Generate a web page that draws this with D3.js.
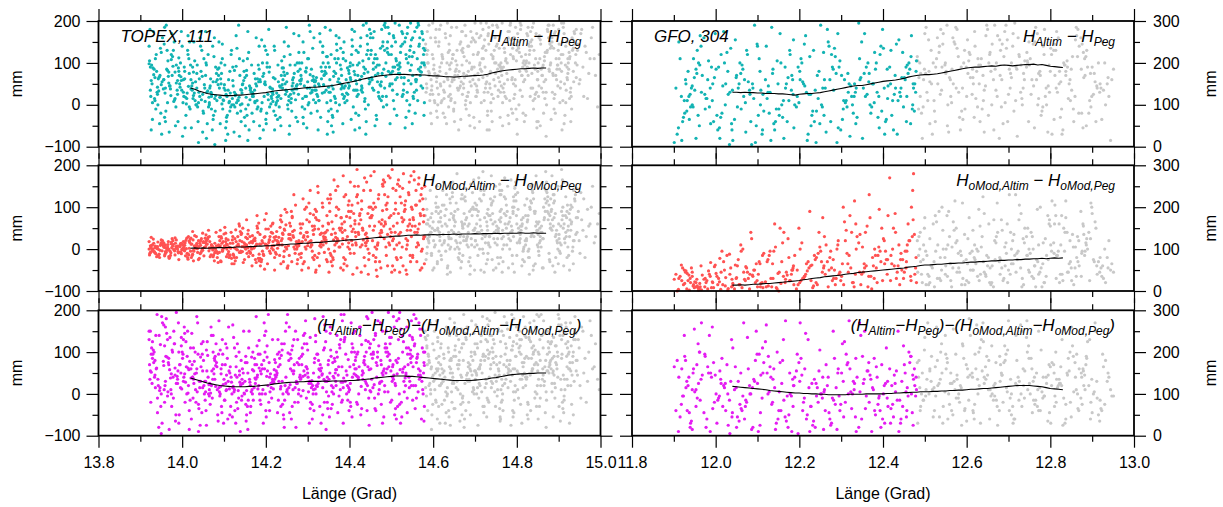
<!DOCTYPE html>
<html><head><meta charset="utf-8">
<script src="https://cdn.jsdelivr.net/npm/d3@7"></script>
<style>
body{margin:0;background:#fff}
svg{display:block}
</style>
</head><body>
<svg id="chart" width="1223" height="507"></svg>
<script>
// ---------------- DATA ----------------
// Left column (TOPEX, pass 111): longitude of the points used (coloured)
const leftX = [
13.938,13.924,13.949,13.930,13.943,13.921,13.935,13.952,13.927,13.946,13.932,13.940,13.923,13.950,13.929,13.936,13.945,13.926,13.941,13.933,
13.960,13.981,13.968,13.985,13.956,13.973,13.964,13.978,13.971,13.958,13.983,13.966,13.976,13.962,13.986,13.969,13.955,13.974,13.980,13.965,
14.012,13.996,14.003,13.990,14.017,14.000,14.008,13.994,14.019,14.005,13.988,14.014,13.998,14.010,13.992,14.001,14.015,14.006,13.989,13.997,
14.032,14.051,14.025,14.040,14.046,14.028,14.035,14.022,14.048,14.042,14.030,14.037,14.053,14.024,14.044,14.033,14.027,14.049,14.039,14.021,
14.083,14.056,14.074,14.067,14.062,14.080,14.070,14.085,14.059,14.065,14.077,14.054,14.072,14.081,14.064,14.058,14.075,14.068,14.061,14.078,
14.101,14.114,14.088,14.107,14.095,14.118,14.103,14.091,14.111,14.098,14.116,14.093,14.105,14.087,14.109,14.100,14.113,14.096,14.090,14.106,
14.150,14.130,14.141,14.125,14.137,14.120,14.145,14.132,14.148,14.127,14.135,14.152,14.122,14.139,14.129,14.143,14.124,14.147,14.133,14.140,
14.155,14.172,14.164,14.179,14.159,14.185,14.168,14.175,14.153,14.166,14.181,14.161,14.177,14.170,14.157,14.183,14.163,14.174,14.154,14.169,
14.210,14.192,14.217,14.200,14.186,14.205,14.197,14.214,14.189,14.208,14.199,14.216,14.194,14.203,14.212,14.187,14.207,14.196,14.218,14.202,
14.227,14.245,14.233,14.219,14.238,14.250,14.224,14.242,14.230,14.236,14.247,14.221,14.240,14.228,14.251,14.234,14.222,14.244,14.231,14.239,
14.270,14.255,14.281,14.263,14.276,14.258,14.267,14.284,14.253,14.273,14.261,14.279,14.265,14.256,14.282,14.269,14.260,14.275,14.264,14.278,
14.299,14.312,14.287,14.306,14.294,14.316,14.302,14.290,14.310,14.297,14.285,14.314,14.304,14.292,14.308,14.296,14.317,14.289,14.301,14.311,
14.339,14.322,14.347,14.331,14.318,14.343,14.327,14.336,14.350,14.325,14.341,14.320,14.333,14.346,14.329,14.338,14.323,14.349,14.335,14.344,
14.364,14.378,14.353,14.370,14.359,14.382,14.367,14.355,14.375,14.361,14.380,14.357,14.372,14.365,14.351,14.376,14.362,14.369,14.383,14.356,
14.395,14.410,14.387,14.403,14.415,14.391,14.400,14.413,14.386,14.406,14.397,14.384,14.408,14.393,14.416,14.402,14.389,14.411,14.398,14.405,
14.431,14.446,14.420,14.438,14.426,14.449,14.434,14.418,14.442,14.429,14.440,14.423,14.447,14.436,14.421,14.444,14.428,14.433,14.417,14.439,
14.471,14.455,14.480,14.462,14.476,14.451,14.467,14.459,14.482,14.464,14.453,14.474,14.469,14.457,14.478,14.461,14.450,14.473,14.466,14.479,
14.494,14.510,14.486,14.503,14.515,14.491,14.499,14.507,14.484,14.497,14.512,14.489,14.505,14.493,14.514,14.501,14.487,14.509,14.496,14.504,
14.530,14.546,14.521,14.538,14.526,14.543,14.517,14.535,14.548,14.524,14.540,14.529,14.519,14.545,14.533,14.522,14.541,14.527,14.537,14.548,
14.562,14.575,14.551,14.569,14.557,14.580,14.565,14.553,14.573,14.560,14.578,14.555,14.567,14.572,14.550,14.577,14.559,14.564,14.579,14.570,
13.947,13.929,13.922,13.941,13.953,13.934,13.926,13.950,13.937,13.924,13.944,13.931,13.928,13.951,13.939,13.925,13.948,13.935,13.942,13.921,
13.977,13.959,13.984,13.963,13.970,13.957,13.982,13.967,13.975,13.961,13.986,13.972,13.956,13.979,13.965,13.983,13.960,13.974,13.968,13.958,
14.004,13.991,14.018,13.999,14.009,13.993,14.016,14.002,13.989,14.013,14.007,13.995,14.020,14.011,13.998,14.006,14.017,13.992,14.003,14.014,
14.045,14.026,14.038,14.052,14.023,14.034,14.047,14.029,14.041,14.050,14.036,14.021,14.043,14.031,14.025,14.049,14.035,14.027,14.044,14.039,
14.066,14.079,14.057,14.071,14.084,14.060,14.073,14.055,14.082,14.069,14.063,14.076,14.086,14.058,14.070,14.080,14.065,14.074,14.056,14.078,
14.112,14.094,14.108,14.089,14.117,14.099,14.104,14.092,14.115,14.102,14.097,14.110,14.088,14.119,14.093,14.106,14.114,14.091,14.104,14.096,
14.126,14.144,14.121,14.136,14.149,14.131,14.142,14.123,14.138,14.151,14.128,14.146,14.134,14.121,14.140,14.129,14.152,14.137,14.125,14.143,
14.176,14.158,14.182,14.165,14.171,14.154,14.184,14.162,14.178,14.167,14.156,14.173,14.180,14.160,14.168,14.184,14.157,14.174,14.163,14.179,
14.195,14.213,14.188,14.204,14.216,14.191,14.209,14.198,14.201,14.215,14.190,14.206,14.193,14.211,14.186,14.203,14.217,14.197,14.209,14.200,
14.241,14.223,14.248,14.229,14.236,14.220,14.246,14.232,14.243,14.226,14.249,14.235,14.221,14.239,14.230,14.244,14.225,14.250,14.237,14.228,
14.259,14.277,14.262,14.283,14.254,14.271,14.266,14.280,14.257,14.274,14.268,14.252,14.279,14.263,14.272,14.258,14.284,14.267,14.255,14.275,
14.309,14.288,14.300,14.315,14.293,14.305,14.286,14.313,14.298,14.307,14.291,14.317,14.303,14.295,14.311,14.289,14.300,14.314,14.297,14.306,
14.326,14.345,14.319,14.334,14.348,14.330,14.340,14.321,14.337,14.350,14.328,14.342,14.324,14.332,14.347,14.319,14.336,14.344,14.327,14.340,
14.373,14.354,14.381,14.360,14.368,14.377,14.352,14.366,14.379,14.358,14.371,14.363,14.383,14.356,14.374,14.361,14.369,14.380,14.354,14.367,
14.388,14.407,14.399,14.414,14.385,14.404,14.392,14.412,14.396,14.401,14.390,14.409,14.385,14.415,14.394,14.406,14.398,14.413,14.387,14.402,
14.443,14.425,14.437,14.419,14.448,14.430,14.441,14.422,14.435,14.447,14.427,14.445,14.432,14.418,14.438,14.424,14.444,14.429,14.440,14.421,
14.458,14.477,14.463,14.452,14.481,14.468,14.456,14.475,14.460,14.470,14.483,14.454,14.465,14.479,14.457,14.472,14.462,14.476,14.451,14.467,
14.506,14.488,14.511,14.498,14.485,14.502,14.513,14.490,14.508,14.495,14.484,14.500,14.514,14.492,14.505,14.487,14.510,14.497,14.503,14.491,
14.539,14.520,14.544,14.528,14.534,14.518,14.547,14.525,14.536,14.542,14.523,14.531,14.546,14.517,14.538,14.532,14.520,14.544,14.527,14.535,
14.558,14.574,14.552,14.566,14.579,14.561,14.571,14.550,14.576,14.563,14.554,14.569,14.578,14.556,14.573,14.560,14.568,14.551,14.577,14.565
];
// H_Altim - H_Peg (mm)
const leftAltY = [
120,35,-20,88,62,140,10,55,95,-45,72,30,180,48,5,110,66,-60,25,85,
40,150,78,-5,60,22,130,92,45,-30,15,105,70,190,52,-65,38,120,8,82,
28,100,60,-40,75,140,18,50,-10,90,35,165,58,2,112,-75,44,80,25,67,
55,-20,90,30,12,150,40,-55,68,20,105,-5,48,35,175,0,78,25,-90,60,
10,70,-35,45,120,22,-10,85,30,5,160,40,-60,55,18,95,-25,62,33,-95,
48,-15,88,20,2,130,35,-45,60,12,-5,100,25,70,-70,40,8,145,18,-30,
65,5,-40,30,110,15,50,-20,80,22,190,-10,45,0,92,28,-65,58,12,36,
-25,75,40,10,125,-50,30,62,18,95,-5,45,160,20,-85,55,35,5,82,25,
42,100,8,-35,60,25,140,15,-10,78,48,30,-60,90,2,55,180,20,65,-20,
18,70,45,-15,105,32,0,88,55,-50,25,130,40,10,75,-30,62,150,22,48,
95,10,58,35,-40,120,28,70,-10,45,15,165,52,-70,85,38,5,100,60,25,
40,135,-5,72,20,55,110,-45,30,88,62,12,190,45,-20,78,35,150,0,58,
70,25,115,-30,55,90,10,140,42,-60,80,35,62,5,170,48,-15,100,28,75,
20,95,60,130,-25,48,75,10,160,38,85,-50,55,110,30,0,68,145,42,-10,
88,35,150,60,-20,105,45,72,15,180,52,-45,95,28,130,65,5,80,40,120,
30,110,70,-10,140,55,90,20,165,45,-40,100,62,8,125,78,35,190,50,-70,
95,40,150,70,10,120,55,175,85,-25,65,135,30,100,75,-50,160,48,110,20,
120,60,185,35,95,150,75,-10,130,50,105,0,165,80,25,140,68,195,45,90,
50,140,90,170,20,115,75,-30,155,65,100,35,190,82,-55,125,58,145,10,95,
110,40,160,70,-20,130,85,15,175,60,100,30,145,78,-45,120,55,195,5,90,
70,-35,105,42,160,15,58,125,-10,90,33,175,50,-70,80,20,135,65,0,98,
115,28,-50,85,45,145,12,68,170,-15,95,38,60,130,5,78,-40,108,52,185,
20,88,150,35,-25,70,110,5,58,130,-55,42,95,15,175,62,-5,80,30,120,
80,15,-40,110,45,0,130,28,62,-15,95,38,160,10,52,-65,75,22,140,5,
40,-15,100,25,60,-45,140,8,75,30,-5,115,48,-80,20,90,0,55,175,15,
5,75,-25,40,120,10,-55,62,28,95,-10,35,150,0,50,-40,80,18,-85,110,
-5,48,90,18,-30,135,35,0,70,-50,25,105,10,58,-15,165,40,-75,82,2,
50,0,95,30,-40,70,140,12,45,-20,110,35,62,-60,20,85,175,8,40,-10,
75,20,-15,120,38,5,90,55,-45,30,155,12,68,40,-80,100,25,50,-5,130,
60,-25,35,95,15,140,50,-5,78,28,185,42,-60,88,20,115,5,55,70,-35,
25,80,-15,50,140,12,65,100,-50,38,75,0,125,45,-30,95,58,170,20,48,
85,15,55,160,-10,40,100,68,-55,28,125,45,5,80,35,-30,110,60,20,175,
50,115,5,80,-40,150,30,65,100,-15,45,185,20,90,-70,58,125,35,10,72,
110,30,70,-30,165,52,90,15,135,45,-15,80,25,120,62,-65,100,38,178,5,
20,140,75,35,110,-35,60,175,25,92,45,-5,125,58,10,155,82,-60,40,100,
145,60,15,95,180,40,120,-25,75,50,160,0,105,35,85,-55,130,68,195,25,
35,180,90,130,-5,75,160,45,110,20,190,60,-35,140,85,15,120,55,170,95,
160,20,110,75,195,50,-25,135,90,170,40,120,65,185,10,100,150,-45,80,125,
185,75,130,25,160,95,50,175,110,-15,140,65,195,85,30,150,100,0,170,120,
60,170,20,140,95,185,45,115,155,10,125,80,-25,175,100,35,160,70,135,190
];
// H_oMod,Altim - H_oMod,Peg (mm)
const leftModY = [
5,-8,12,0,-15,18,3,-4,9,-20,14,2,-10,22,-3,7,-12,28,1,-6,
10,-2,-18,6,15,-9,0,20,-5,4,-14,11,25,-7,2,-22,8,16,-1,5,
-10,13,3,-6,19,0,-16,8,24,-3,6,-12,14,1,-25,10,30,-4,7,-8,
2,18,-12,6,25,-5,10,-20,0,14,32,-8,4,-15,20,8,-3,38,-25,12,
-6,15,5,-18,28,0,10,-10,22,3,-28,16,7,40,-4,12,-14,2,24,-9,
8,-15,30,0,14,-22,5,45,-6,18,2,-30,25,10,-12,36,4,-5,20,-18,
12,-20,35,3,-8,22,50,-2,15,-28,8,28,-12,42,0,18,-35,6,30,-5,
-10,24,5,55,-18,12,32,-25,8,0,40,15,-32,20,3,62,-8,26,10,-15,
30,-5,18,48,-22,8,70,2,-30,22,12,38,-12,5,55,-40,16,28,-2,10,
20,45,-15,8,65,0,30,-30,15,80,5,-20,38,12,-45,52,22,-5,28,10,
-10,35,15,75,-25,25,5,50,-40,18,90,8,32,-15,60,0,22,-35,42,12,
40,-20,18,85,5,55,-45,28,10,100,-10,35,65,-30,20,0,48,120,15,-5,
25,70,-30,12,95,40,-10,55,0,135,20,-50,38,80,8,30,-20,62,110,15,
-5,45,90,18,-40,60,28,120,5,-25,75,35,150,10,-55,50,22,100,40,-15,
30,85,-35,55,15,130,0,68,-20,42,105,25,-60,78,10,160,45,-10,90,20,
50,-25,110,35,5,75,140,-45,28,95,15,60,-10,170,40,85,-55,22,125,8,
65,20,150,-30,45,100,10,185,55,-50,80,30,120,-15,70,5,140,38,-65,92,
15,110,60,-40,155,35,80,0,130,48,-20,95,25,175,62,-55,105,40,10,145,
70,-30,125,45,5,160,85,-50,30,110,55,180,15,-15,95,40,135,65,-60,100,
40,120,-20,85,55,150,10,70,-45,105,30,165,60,-5,95,25,140,48,-35,80,
-3,10,-14,6,20,-7,2,15,-11,8,-1,24,-5,12,-18,4,9,-9,17,0,
7,-12,14,1,-20,9,-4,18,3,-8,22,-15,5,11,-2,27,-6,13,0,-16,
4,-9,16,-2,21,7,-14,11,0,-20,15,6,-5,26,-11,9,2,-7,18,-24,
-8,22,3,-16,12,30,-4,8,-22,16,1,26,-11,6,42,-3,14,-28,9,20,
18,-6,34,4,-20,12,-2,26,8,-14,45,2,-32,20,10,-8,30,-18,6,14,
-20,26,10,-8,40,2,18,-28,14,52,-4,22,6,-35,30,12,-14,8,38,-2,
25,-6,14,60,-25,8,38,-15,20,2,46,-32,12,30,-8,18,0,55,-20,6,
8,45,-22,18,2,70,-12,30,12,-40,25,5,50,-5,15,-28,36,20,-10,80,
-15,40,12,-35,60,20,-5,30,85,8,-25,48,15,-10,35,2,62,-48,22,10,
35,-8,58,18,-35,28,95,10,-18,42,5,70,-50,25,12,48,-12,88,20,2,
55,15,-30,38,8,105,28,-12,62,0,45,-45,20,78,10,35,-20,130,25,5,
10,60,30,-25,95,18,-50,45,70,5,32,-15,110,22,55,-35,8,82,40,140,
48,-25,75,18,120,35,-8,90,10,60,-40,28,150,5,45,-55,100,22,68,38,
20,130,50,-20,80,5,110,38,-45,65,25,165,12,-30,95,48,15,75,-10,140,
65,10,115,40,-50,90,22,150,5,75,-25,48,175,30,-40,105,15,60,125,-10,
20,85,-40,130,55,10,160,35,-20,100,70,-60,45,190,15,80,0,115,38,150,
110,40,-20,75,165,15,95,-45,55,130,25,80,0,155,45,-30,100,60,175,10,
85,-15,140,30,65,190,10,110,-50,75,160,40,-25,125,55,5,95,170,20,-40,
20,150,60,-40,115,35,175,75,0,130,-20,90,45,165,10,105,-55,70,145,25,
105,0,75,170,30,-30,130,55,95,15,185,-50,80,40,145,5,115,-15,65,155
];
// (H_Altim - H_Peg) - (H_oMod,Altim - H_oMod,Peg) (mm)
const leftDiffY = [
60,150,-30,95,20,130,45,-70,110,8,75,190,35,-95,85,15,140,52,-10,100,
30,120,70,-50,165,10,88,40,135,-20,62,5,105,180,25,-85,78,48,150,-5,
90,15,130,55,-40,100,28,70,-15,160,42,2,115,65,-70,85,20,145,35,50,
10,80,40,-35,120,25,60,-60,95,15,48,170,0,70,30,-20,110,55,-90,38,
65,5,100,-25,40,18,140,-50,55,10,85,30,-10,120,22,-75,60,2,92,35,
-15,50,15,110,-45,28,70,0,160,22,-30,60,8,95,-60,35,12,130,-5,45,
30,-20,80,10,55,-55,25,120,2,45,-10,90,18,-90,65,35,5,150,-35,20,
75,15,-30,40,110,0,58,25,-65,88,12,35,185,-15,50,20,-45,70,8,100,
5,60,30,-40,95,20,140,-10,48,75,0,35,-70,115,25,55,-20,170,12,42,
50,-15,85,28,120,5,40,-50,65,18,150,35,-25,95,10,70,45,-80,30,105,
15,80,40,-30,130,22,55,-5,98,30,-60,70,10,160,45,-20,85,25,115,0,
60,20,110,-35,45,75,5,140,32,-10,90,50,-70,120,25,65,180,8,40,-25,
35,95,-20,55,12,125,40,-50,80,25,165,0,62,30,-30,105,18,70,48,-85,
85,10,50,140,-25,65,30,105,-5,42,190,20,-45,78,35,118,0,58,-15,90,
20,70,125,-30,45,95,10,150,38,-55,82,28,110,0,60,-20,135,48,15,100,
55,-10,100,30,160,8,75,42,-40,118,25,65,-75,90,35,180,18,50,-20,128,
10,85,45,140,-25,60,100,22,-55,75,35,170,0,95,50,-35,120,28,68,150,
65,20,120,40,-30,90,55,160,5,80,-60,110,35,195,48,-15,100,25,135,70,
30,105,58,-45,140,15,85,45,175,-20,70,125,0,95,38,-70,110,52,160,20,
88,10,130,45,-35,100,60,20,155,-10,75,115,35,-60,90,50,180,5,68,140,
15,125,70,-45,170,40,95,0,140,55,-80,105,25,185,62,-20,118,80,35,150,
100,20,-65,145,58,10,120,75,-30,90,195,38,68,-10,130,45,160,0,85,115,
40,170,78,12,125,-50,58,95,25,150,-20,70,110,0,135,48,-85,100,30,62,
65,-10,95,20,145,50,-45,78,30,125,5,60,-75,100,40,15,185,35,88,-25,
25,90,-40,55,10,125,35,-15,75,160,0,48,-65,105,20,68,-5,140,30,80,
55,-30,85,5,40,-70,120,18,65,-15,95,30,175,0,48,10,-50,105,25,70,
-40,60,15,100,0,40,-15,135,28,75,-70,50,8,165,22,90,-25,45,110,-5,
35,-15,95,5,55,-50,128,28,70,10,-30,85,45,150,0,62,-85,38,20,115,
80,15,-25,55,130,0,40,100,-55,25,70,190,10,48,-15,88,30,60,-40,150,
0,75,40,130,-30,58,20,100,-60,45,170,12,82,30,-15,120,55,5,92,-45,
60,-20,105,35,0,150,48,85,-45,25,70,190,10,55,-80,95,38,130,15,75,
15,95,50,-40,145,30,70,0,120,-20,55,85,25,175,-60,42,105,10,65,135,
80,5,140,45,-35,70,110,20,185,-5,58,30,95,-70,40,125,15,150,60,-20,
45,160,-20,75,20,110,-55,50,130,5,88,38,175,-35,65,15,100,28,145,58,
130,40,-40,80,15,170,55,100,-15,65,30,145,-70,88,45,120,5,60,190,25,
20,140,70,-25,110,45,185,0,80,58,-50,125,35,95,10,160,65,-35,100,40,
130,30,-40,95,55,175,15,80,-10,115,60,195,40,-70,100,25,145,70,5,88,
45,150,80,-20,110,30,175,60,-50,95,20,135,75,5,185,50,-35,120,65,100,
95,-25,140,60,20,180,75,-55,110,40,155,5,85,130,-10,65,195,30,100,50,
20,110,65,170,-30,85,40,135,0,95,190,55,-65,120,30,75,155,-15,100,45
];
// Left column, points outside the used segment (grey)
const leftGrayX = [
14.598,14.585,14.607,14.591,14.603,14.582,14.595,14.610,14.588,14.601,14.593,14.605,14.584,14.599,14.590,14.608,14.587,14.596,14.581,14.604,
14.626,14.613,14.637,14.620,14.632,14.616,14.629,14.640,14.622,14.611,14.634,14.618,14.627,14.639,14.624,14.614,14.631,14.621,14.636,14.617,
14.655,14.643,14.668,14.650,14.661,14.646,14.658,14.670,14.652,14.641,14.664,14.649,14.657,14.667,14.644,14.660,14.653,14.666,14.647,14.662,
14.684,14.697,14.673,14.689,14.680,14.700,14.676,14.692,14.686,14.671,14.695,14.682,14.678,14.698,14.688,14.674,14.691,14.683,14.699,14.677,
14.712,14.725,14.704,14.719,14.730,14.708,14.716,14.722,14.701,14.728,14.714,14.706,14.724,14.711,14.718,14.729,14.703,14.720,14.710,14.726,
14.745,14.733,14.757,14.740,14.751,14.736,14.760,14.743,14.748,14.731,14.754,14.738,14.746,14.759,14.734,14.750,14.742,14.756,14.737,14.753,
14.772,14.785,14.764,14.779,14.767,14.790,14.775,14.762,14.783,14.770,14.788,14.765,14.777,14.781,14.761,14.786,14.769,14.774,14.789,14.766,
14.803,14.792,14.815,14.798,14.809,14.820,14.795,14.806,14.812,14.791,14.800,14.817,14.797,14.808,14.814,14.793,14.804,14.819,14.801,14.811,
14.836,14.824,14.847,14.830,14.842,14.821,14.833,14.850,14.827,14.839,14.845,14.823,14.835,14.848,14.829,14.838,14.826,14.844,14.832,14.841,
14.866,14.853,14.877,14.860,14.871,14.856,14.880,14.863,14.868,14.851,14.874,14.858,14.865,14.879,14.855,14.870,14.862,14.876,14.852,14.873,
14.895,14.883,14.906,14.889,14.900,14.886,14.910,14.892,14.898,14.881,14.904,14.888,14.896,14.908,14.884,14.901,14.891,14.907,14.887,14.903,
14.925,14.914,14.938,14.920,14.931,14.917,14.942,14.922,14.928,14.911,14.935,14.919,14.926,14.940,14.913,14.933,14.921,14.937,14.916,14.929,
14.944,14.947,14.951,14.955,14.960,14.966,14.972,14.978,14.985,14.993,
14.589,14.606,14.583,14.600,14.594,14.609,14.586,14.597,14.602,14.592,14.581,14.608,14.596,14.585,14.604,14.590,14.599,14.587,14.610,14.594,
14.633,14.619,14.612,14.638,14.625,14.615,14.635,14.628,14.621,14.640,14.613,14.630,14.618,14.637,14.623,14.611,14.634,14.626,14.616,14.639,
14.663,14.648,14.669,14.656,14.642,14.659,14.651,14.666,14.645,14.654,14.670,14.641,14.662,14.649,14.657,14.665,14.643,14.652,14.668,14.646,
14.693,14.679,14.685,14.672,14.696,14.681,14.690,14.675,14.699,14.687,14.673,14.694,14.684,14.678,14.700,14.688,14.671,14.697,14.680,14.691,
14.705,14.721,14.713,14.727,14.702,14.717,14.709,14.730,14.723,14.707,14.715,14.726,14.704,14.719,14.711,14.729,14.706,14.722,14.714,14.701,
14.739,14.755,14.732,14.749,14.741,14.758,14.735,14.747,14.752,14.744,14.760,14.733,14.739,14.756,14.748,14.731,14.743,14.754,14.736,14.759,
14.768,14.780,14.763,14.787,14.771,14.776,14.784,14.761,14.773,14.789,14.766,14.778,14.782,14.764,14.775,14.790,14.770,14.785,14.762,14.779,
14.796,14.810,14.799,14.818,14.793,14.807,14.813,14.802,14.816,14.791,14.805,14.794,14.819,14.808,14.797,14.812,14.800,14.815,14.792,14.806,
14.828,14.843,14.822,14.837,14.849,14.831,14.840,14.825,14.846,14.834,14.821,14.840,14.827,14.848,14.836,14.823,14.844,14.830,14.850,14.833,
14.859,14.872,14.854,14.878,14.864,14.857,14.869,14.875,14.851,14.867,14.880,14.861,14.873,14.856,14.866,14.877,14.853,14.870,14.863,14.879,
14.890,14.902,14.885,14.909,14.894,14.882,14.899,14.905,14.887,14.897,14.910,14.884,14.893,14.906,14.889,14.901,14.881,14.898,14.892,14.907,
14.918,14.932,14.923,14.912,14.936,14.927,14.915,14.939,14.924,14.930,14.913,14.941,14.920,14.934,14.917,14.926,14.942,14.922,14.929,14.935,
14.945,14.949,14.953,14.958,14.963,14.969,14.975,14.981,14.988,14.997
];
const leftGrayAltY = [
120,40,180,75,10,145,60,-30,100,85,25,160,50,195,70,-15,130,35,90,5,
55,140,20,100,-45,80,170,45,115,0,65,190,30,95,-20,150,75,10,125,50,
85,15,130,60,-60,110,40,175,70,25,145,-10,95,55,185,35,80,-35,120,65,
30,155,75,5,105,50,190,85,-25,135,60,20,165,90,-50,115,45,140,70,0,
100,40,170,65,-15,125,80,10,150,55,195,30,90,-40,135,70,20,110,160,50,
60,185,95,25,140,75,-30,115,45,165,85,5,130,55,-60,100,190,35,80,145,
20,120,70,175,40,-20,150,90,10,135,60,195,100,-45,80,155,30,110,65,5,
140,50,100,-10,180,85,25,125,70,160,-35,105,45,195,90,15,135,60,-70,115,
75,170,30,120,95,-25,150,60,185,10,110,80,140,-55,100,40,165,85,20,130,
105,45,190,70,0,155,95,30,125,-40,175,85,55,145,110,-75,90,160,20,130,
60,140,100,15,180,75,120,-20,95,165,40,135,85,-60,150,110,25,195,70,5,
125,50,170,90,-10,140,65,110,30,185,80,150,15,100,-45,130,60,175,95,40,
95,145,60,180,20,125,75,160,110,-5,
80,150,30,110,-20,65,175,45,95,10,135,55,-45,120,75,190,25,100,40,160,
100,5,70,145,35,180,60,-30,120,85,25,160,45,-5,110,70,195,15,90,130,
40,120,95,185,10,70,-40,150,55,105,25,165,80,-15,130,45,100,5,175,60,
90,-10,140,50,120,20,175,65,-55,100,40,160,80,10,195,55,125,-30,70,150,
35,140,85,195,20,110,60,-25,155,75,5,130,45,180,95,-60,120,30,165,70,
120,20,170,75,-40,135,50,100,190,15,90,145,-15,65,160,30,110,185,40,95,
90,160,45,-10,125,75,190,30,105,145,-50,60,175,85,15,135,50,195,100,-25,
60,190,105,-40,145,80,20,170,55,115,0,160,95,35,185,70,130,-20,110,150,
145,15,100,185,60,130,-10,90,170,40,120,195,70,-40,155,105,25,140,80,175,
40,125,165,80,-20,145,60,190,100,15,135,70,180,-50,115,85,160,30,95,150,
170,85,30,150,110,-35,130,55,190,95,10,160,70,120,-10,145,100,45,175,80,
35,160,100,195,55,115,-25,145,85,20,170,120,65,155,5,110,180,75,-40,135,
130,50,170,90,140,15,110,185,70,120
];
const leftGrayModY = [
50,-10,90,30,5,120,40,-35,70,20,140,10,60,-50,35,100,25,-15,80,45,
15,85,40,-25,130,30,60,0,105,45,-45,75,20,150,35,-5,95,55,10,65,
110,25,-30,70,40,135,5,55,90,-55,30,80,15,120,45,-20,65,35,160,0,
40,95,20,-40,75,50,125,10,60,-15,100,30,145,45,-60,85,25,55,5,115,
70,15,105,35,-25,90,45,140,20,65,-50,80,30,120,0,55,95,-10,40,150,
25,80,-35,110,45,5,130,60,15,95,-20,70,40,155,30,-45,85,50,120,10,
60,20,140,35,-30,100,50,75,0,125,40,-55,90,25,65,165,10,80,-15,45,
95,30,-5,115,55,20,145,40,-40,85,60,5,130,35,-25,100,50,170,15,70,
35,120,65,-20,90,10,150,45,80,-50,55,25,110,40,0,135,70,-35,95,30,
75,-15,105,40,160,20,60,-45,90,35,125,5,70,-30,50,140,25,85,-5,115,
45,95,10,130,60,-40,80,30,150,50,-10,110,20,70,175,35,-55,90,55,15,
85,25,120,-20,65,40,145,5,95,50,-35,75,30,130,60,-5,105,20,80,45,
40,90,-10,70,120,30,55,100,15,60,
20,110,-25,65,40,150,5,85,-45,55,30,125,-10,95,45,15,170,60,-30,75,
55,-15,100,25,160,40,-40,80,10,120,65,-5,90,30,140,50,-60,105,20,70,
-10,75,130,35,5,95,55,-45,145,20,60,110,-25,40,180,15,85,0,65,125,
80,20,-30,120,45,10,155,60,-50,90,30,135,5,70,110,-20,50,165,25,95,
10,130,55,-35,95,25,170,45,75,-15,115,35,60,185,0,85,40,-55,140,20,
105,45,15,150,-25,70,30,125,55,-50,90,10,175,40,65,-10,115,25,80,140,
30,-45,95,55,170,10,75,-20,120,45,0,150,65,25,105,-35,85,40,130,60,
150,45,80,-30,115,15,60,135,0,90,40,-55,105,25,160,55,-15,75,125,20,
-20,85,50,140,10,100,-40,65,175,30,80,120,-5,45,155,20,90,-60,60,115,
55,135,15,-25,100,40,185,70,5,120,50,-45,90,30,145,-10,65,110,25,80,
115,-5,70,165,35,90,-35,55,130,15,100,45,-20,150,75,25,120,0,85,190,
30,100,55,-40,140,70,15,115,-15,60,160,35,90,5,125,-50,75,45,105,20,
75,20,135,45,-20,95,60,150,30,85
];
const leftGrayDiffY = [
40,110,-20,75,150,15,60,-60,95,30,170,50,-5,120,20,85,-40,65,135,10,
55,-30,100,25,160,45,-70,80,35,125,0,70,-15,140,30,90,-45,60,110,20,
15,85,40,-35,130,25,70,-10,105,50,-65,90,30,155,5,60,115,-25,40,80,
65,10,120,-50,45,95,25,175,35,-20,80,50,135,0,70,-80,100,30,55,145,
20,90,45,-30,125,60,5,150,35,-55,80,110,15,65,185,-10,50,95,25,130,
75,-20,55,140,30,100,-65,85,45,165,10,70,120,-35,40,90,25,155,60,-5,
95,30,150,50,-40,115,65,10,135,45,190,-15,80,55,125,-75,70,35,105,20,
50,125,15,90,-25,160,60,100,35,-55,140,75,5,115,45,180,-10,85,55,130,
110,40,-30,150,70,20,125,55,-60,95,160,35,85,0,135,60,-20,105,45,175,
30,95,65,140,-15,80,120,45,-45,100,55,190,20,75,130,-80,60,110,35,150,
70,125,10,90,165,50,-35,115,40,80,-65,135,60,95,25,180,-10,85,55,140,
100,35,150,65,-25,120,80,20,170,45,-50,90,60,130,-5,75,110,30,145,55,
80,130,20,160,50,-20,100,140,65,35,
90,-15,130,45,0,175,70,-50,105,25,150,60,-85,115,35,80,-25,140,55,10,
-5,120,60,-55,95,20,145,40,-25,180,75,5,110,-40,50,135,15,85,-70,65,
100,30,-50,140,60,10,170,45,-20,90,120,-75,70,25,155,0,80,-35,110,50,
45,130,-20,80,15,160,55,-60,100,30,190,5,75,-40,120,60,-5,145,35,90,
120,-45,70,25,165,50,-10,105,80,-75,140,35,0,90,60,180,15,-30,125,55,
15,150,85,-30,110,45,175,5,70,130,-55,95,30,60,195,-15,100,40,140,75,
140,60,-20,105,25,170,80,-60,120,45,0,155,70,35,110,-40,185,55,90,15,
20,95,160,50,-45,130,75,10,185,60,110,-15,140,35,90,-70,120,65,5,150,
85,-10,135,60,20,170,100,-50,75,150,40,115,-25,190,55,90,5,130,70,-40,
140,55,-30,100,175,20,80,125,-60,65,160,35,95,-10,145,50,185,5,110,70,
25,150,85,-20,115,60,190,35,-55,100,140,5,75,165,45,-30,120,90,15,130,
160,45,95,-45,130,75,10,185,60,115,-15,145,35,90,170,-70,55,125,20,100,
45,110,-10,150,85,30,175,60,120,10
];
// Left running means
const leftMeanX = [
14.02,14.03,14.04,14.05,14.06,14.07,14.08,14.09,14.10,14.11,14.12,14.13,14.14,14.15,14.16,14.17,14.18,14.19,14.20,14.21,
14.22,14.23,14.24,14.25,14.26,14.27,14.28,14.29,14.30,14.31,14.32,14.33,14.34,14.35,14.36,14.37,14.38,14.39,14.40,14.41,
14.42,14.43,14.44,14.45,14.46,14.47,14.48,14.49,14.50,14.51,14.52,14.53,14.54,14.55,14.56,14.57,14.58,14.59,14.60,14.61,
14.62,14.63,14.64,14.65,14.66,14.67,14.68,14.69,14.70,14.71,14.72,14.73,14.74,14.75,14.76,14.77,14.78,14.79,14.80,14.81,
14.82,14.83,14.84,14.85,14.86,14.87
];
const leftMeanAlt = [
40,37,33,30,27,25,24,23,22,22,22,23,23,24,25,26,27,28,29,31,
33,34,35,36,37,38,39,40,41,42,42,43,44,45,46,48,50,52,54,56,
58,61,63,65,67,69,70,71,72,73,72,73,72,71,72,71,71,70,69,69,
68,67,67,66,67,68,68,69,70,70,71,73,76,78,80,82,83,84,85,86,
86,87,88,87,88,88
];
const leftMeanMod = [
2,3,2,3,2,3,3,4,3,4,4,5,5,5,6,6,7,7,8,8,
9,10,10,11,12,12,13,14,14,15,16,16,17,18,19,19,20,21,22,22,
23,24,25,26,27,28,28,29,30,31,31,32,33,33,34,33,34,34,35,34,
35,35,35,36,35,36,36,36,37,36,37,37,37,38,37,38,38,38,38,39,
38,38,39,38,38,38
];
const leftMeanDiff = [
38,35,32,29,26,24,22,20,19,18,17,17,17,17,18,18,19,20,21,22,
24,25,26,27,28,28,29,29,30,30,30,30,31,30,31,31,31,31,32,32,
33,34,35,36,38,39,40,41,42,43,43,43,42,42,41,40,39,38,37,36,
35,34,33,32,32,32,32,32,33,34,35,36,38,39,41,43,45,46,47,48,
48,49,49,50,50,50
];

// Right column (GFO, pass 304)
const rightX = [
11.934,11.958,11.905,11.947,11.921,11.966,11.912,11.940,11.928,11.953,11.918,11.962,11.931,11.944,11.901,11.956,11.925,11.937,11.968,11.950,
12.005,11.983,12.030,11.975,12.019,11.993,12.038,12.001,11.979,12.027,12.012,11.987,12.041,11.997,12.023,11.972,12.015,11.990,12.034,12.009,
12.078,12.052,12.100,12.067,12.111,12.060,12.089,12.045,12.104,12.071,12.093,12.056,12.115,12.082,12.063,12.097,12.049,12.086,12.108,12.074,
12.152,12.126,12.175,12.137,12.163,12.119,12.186,12.145,12.130,12.171,12.156,12.123,12.182,12.141,12.167,12.134,12.189,12.149,12.160,12.178,
12.227,12.201,12.249,12.212,12.238,12.193,12.260,12.219,12.204,12.245,12.230,12.197,12.256,12.215,12.241,12.208,12.264,12.223,12.234,12.253,
12.301,12.275,12.323,12.286,12.312,12.267,12.334,12.293,12.279,12.319,12.305,12.271,12.331,12.290,12.316,12.282,12.338,12.297,12.308,12.327,
12.375,12.349,12.397,12.360,12.386,12.342,12.408,12.367,12.353,12.393,12.379,12.345,12.404,12.364,12.390,12.356,12.412,12.371,12.382,12.401,
12.445,12.423,12.467,12.430,12.456,12.416,12.476,12.438,12.427,12.460,12.449,12.419,12.473,12.434,12.464,12.442,12.480,12.453,12.470,12.478,
11.946,11.915,11.961,11.929,11.953,11.908,11.939,11.965,11.923,11.949,11.932,11.919,11.959,11.942,11.926,11.963,11.936,11.911,11.955,11.944,
12.024,11.995,12.036,11.977,12.010,12.029,11.985,12.017,11.999,12.039,11.974,12.021,12.003,11.981,12.033,11.992,12.013,12.040,11.988,12.007,
12.091,12.058,12.112,12.069,12.081,12.047,12.102,12.065,12.095,12.054,12.107,12.076,12.084,12.050,12.113,12.072,12.099,12.061,12.088,12.106,
12.166,12.139,12.181,12.121,12.158,12.173,12.132,12.185,12.147,12.128,12.169,12.154,12.187,12.136,12.162,12.143,12.177,12.125,12.151,12.184,
12.236,12.210,12.258,12.199,12.243,12.221,12.262,12.206,12.232,12.251,12.195,12.228,12.247,12.217,12.240,12.202,12.255,12.225,12.213,12.259,
12.310,12.284,12.329,12.273,12.321,12.295,12.336,12.269,12.303,12.325,12.288,12.314,12.277,12.332,12.299,12.281,12.317,12.292,12.306,12.335,
12.384,12.358,12.406,12.347,12.395,12.369,12.410,12.351,12.377,12.399,12.362,12.388,12.344,12.403,12.373,12.355,12.391,12.366,12.380,12.411,
12.457,12.432,12.472,12.421,12.462,12.440,12.479,12.425,12.451,12.468,12.436,12.458,12.418,12.475,12.447,12.429,12.466,12.443,12.455,12.471
];
const rightAltY = [
180,75,140,210,60,130,250,95,160,20,120,195,85,145,10,230,110,65,170,135,
40,205,125,90,275,150,55,185,115,225,70,140,15,165,100,260,80,190,130,45,
155,95,240,120,30,175,140,65,210,105,290,150,85,125,195,50,165,5,135,230,
75,145,110,185,20,160,255,90,130,60,200,115,170,40,140,285,100,150,70,220,
125,180,55,245,135,95,160,15,210,115,75,190,140,265,85,155,35,125,230,100,
170,60,145,215,110,280,130,45,190,150,90,240,120,10,175,135,70,205,160,100,
150,250,85,190,130,295,65,175,140,220,105,160,30,200,120,270,145,80,185,235,
165,110,215,140,60,190,150,255,125,175,95,230,140,30,185,120,205,160,90,130,
95,210,50,150,185,30,125,240,70,165,110,15,200,140,80,265,120,45,175,100,
150,60,235,115,20,180,95,145,270,40,125,200,75,160,5,110,220,135,55,190,
115,200,40,160,135,255,75,185,10,140,100,220,60,170,125,35,245,90,150,180,
190,55,135,240,100,165,15,125,205,80,150,270,45,175,110,60,230,130,90,160,
60,150,225,105,170,30,140,200,85,290,120,50,180,130,10,160,95,215,145,75,
105,235,80,160,25,190,140,250,65,120,175,95,220,150,40,185,130,270,110,55,
200,120,60,165,240,100,185,20,150,280,125,70,210,140,95,175,45,155,225,115,
120,245,150,75,200,130,180,40,165,265,110,195,150,85,225,170,55,140,190,100
];
const rightModY = [
25,8,40,15,55,3,30,20,45,10,62,18,5,35,28,12,50,2,38,22,
15,48,6,30,70,20,10,42,25,85,4,35,18,58,12,28,95,8,40,22,
30,60,10,45,20,110,35,5,70,25,50,15,90,40,8,65,30,125,18,55,
45,12,80,30,140,22,60,8,95,38,18,70,50,160,28,10,85,42,115,25,
60,20,105,35,75,5,130,48,25,90,62,15,175,40,80,30,110,55,12,70,
35,95,55,15,145,70,40,120,25,85,200,50,10,100,65,30,130,45,165,20,
80,40,150,60,20,115,75,230,45,95,30,135,65,10,105,55,180,35,85,125,
50,100,25,140,70,270,40,110,60,160,30,85,280,45,120,75,20,95,130,55,
12,35,5,48,20,0,30,60,15,8,42,25,2,55,18,10,38,4,28,45,
32,8,55,20,78,2,40,15,62,28,10,50,35,5,88,22,45,12,68,30,
50,15,85,28,5,62,40,100,20,75,10,45,140,32,8,58,25,95,38,65,
20,95,40,10,70,125,30,55,5,85,45,150,15,65,35,105,25,75,0,50,
85,30,55,150,15,70,40,115,8,95,50,25,140,65,20,100,45,190,35,60,
120,50,20,80,180,40,100,10,65,140,30,90,55,215,25,75,45,110,15,160,
55,140,95,15,70,175,40,105,60,25,155,85,45,120,5,65,195,35,100,75,
95,30,170,65,120,15,80,150,45,200,60,110,25,135,75,185,35,90,55,240
];
const rightDiffY = [
120,220,60,160,95,270,140,30,180,110,75,200,130,15,165,90,240,55,145,105,
85,150,25,190,120,65,230,100,40,170,135,10,210,80,125,55,185,140,5,95,
160,45,125,270,90,150,20,110,195,70,130,35,175,100,60,250,115,15,145,80,
105,190,50,135,85,225,120,30,165,95,60,150,10,115,275,75,140,40,180,100,
70,130,205,90,20,155,110,50,185,80,125,5,140,245,95,60,170,115,35,100,
150,25,105,75,195,120,45,160,90,275,130,55,110,15,175,85,140,60,225,100,
115,40,170,95,140,20,210,80,125,60,185,105,30,155,90,250,70,135,50,100,
130,75,190,105,45,160,120,10,145,95,215,65,135,85,175,30,110,150,55,95,
150,45,200,115,70,180,20,135,95,255,60,160,125,35,190,85,140,10,170,110,
60,175,130,20,155,100,240,70,145,45,195,115,30,165,85,260,125,55,150,90,
135,75,210,40,120,165,10,95,180,130,55,235,100,20,150,85,195,65,115,25,
45,160,95,265,125,20,140,70,200,105,35,175,120,80,230,15,150,100,60,135,
135,80,15,175,115,230,60,145,25,100,195,70,155,40,125,270,90,10,160,105,
80,185,130,40,160,95,10,140,220,65,115,170,30,125,75,250,100,150,45,185,
165,65,125,240,20,145,90,190,110,40,155,75,270,120,10,135,95,175,60,130,
60,155,25,120,200,85,140,45,170,100,250,115,30,160,70,125,190,40,105,145
];
const rightGrayX = [
12.515,12.489,12.538,12.502,12.525,12.483,12.531,12.509,12.496,12.541,12.518,12.486,12.535,12.505,12.528,12.492,12.544,12.512,12.499,12.522,
12.580,12.554,12.603,12.567,12.590,12.548,12.596,12.574,12.561,12.606,12.583,12.551,12.600,12.570,12.593,12.557,12.609,12.577,12.564,12.587,
12.645,12.619,12.668,12.632,12.655,12.613,12.661,12.639,12.626,12.671,12.648,12.616,12.665,12.635,12.658,12.622,12.674,12.642,12.629,12.652,
12.710,12.684,12.733,12.697,12.720,12.678,12.726,12.704,12.691,12.736,12.713,12.681,12.730,12.700,12.723,12.687,12.739,12.707,12.694,12.717,
12.775,12.749,12.798,12.762,12.785,12.743,12.791,12.769,12.756,12.801,12.778,12.746,12.795,12.765,12.788,12.752,12.804,12.772,12.759,12.782,
12.840,12.814,12.863,12.827,12.850,12.808,12.856,12.834,12.821,12.866,12.843,12.811,12.860,12.830,12.853,12.817,12.869,12.837,12.824,12.847,
12.903,12.879,12.923,12.889,12.911,12.873,12.932,12.896,12.882,12.944,12.907,12.876,12.927,12.892,12.915,12.886,12.951,12.899,12.919,12.938,
12.497,12.530,12.485,12.520,12.540,12.503,12.512,12.490,12.534,12.507,12.526,12.494,12.543,12.516,12.488,12.523,12.500,12.537,12.510,12.482,
12.562,12.595,12.550,12.585,12.605,12.568,12.577,12.555,12.599,12.572,12.591,12.559,12.608,12.581,12.553,12.588,12.565,12.602,12.575,12.549,
12.627,12.660,12.615,12.650,12.670,12.633,12.642,12.620,12.664,12.637,12.656,12.624,12.673,12.646,12.618,12.653,12.630,12.667,12.640,12.614,
12.692,12.725,12.680,12.715,12.735,12.698,12.707,12.685,12.729,12.702,12.721,12.689,12.738,12.711,12.683,12.718,12.695,12.732,12.705,12.679,
12.757,12.790,12.745,12.780,12.800,12.763,12.772,12.750,12.794,12.767,12.786,12.754,12.803,12.776,12.748,12.783,12.760,12.797,12.770,12.744,
12.822,12.855,12.810,12.845,12.865,12.828,12.837,12.815,12.859,12.832,12.851,12.819,12.868,12.841,12.813,12.848,12.825,12.862,12.835,12.809,
12.885,12.912,12.875,12.900,12.925,12.880,12.894,12.930,12.878,12.905,12.918,12.887,12.936,12.897,12.874,12.909,12.883,12.921,12.940,12.947
];
const rightGrayAltY = [
230,120,280,175,60,205,150,255,95,190,30,165,240,130,210,80,270,155,185,110,
215,50,175,260,140,195,90,285,160,225,70,180,120,250,200,35,165,235,105,190,
145,275,185,60,220,125,245,170,95,200,290,150,40,210,180,115,265,135,195,75,
240,160,100,255,185,20,215,140,275,175,85,230,195,125,260,55,205,165,290,110,
180,250,130,45,220,190,100,270,160,235,75,200,145,285,120,210,30,175,245,95,
205,140,265,90,185,230,60,195,150,280,115,170,255,40,215,130,240,180,70,160,
125,225,65,190,145,260,100,175,210,15,155,245,135,80,200,50,185,120,150,165,
160,260,90,200,135,285,55,175,225,110,190,20,245,150,200,85,270,125,180,215,
120,230,175,40,205,150,280,100,190,245,65,165,220,130,290,85,185,255,140,200,
210,100,165,280,135,195,35,240,160,90,225,180,120,265,70,200,150,290,110,185,
105,220,170,295,140,60,200,245,130,185,25,215,160,270,95,190,235,115,175,255,
265,140,205,85,180,250,115,195,35,160,280,125,220,170,60,240,145,195,100,225,
180,90,245,150,215,30,170,275,120,200,135,260,80,190,230,110,155,285,195,65,
215,140,80,190,250,165,110,200,45,175,130,230,150,95,185,60,170,140,120,160
];
const rightGrayModY = [
60,140,25,95,180,45,110,15,75,200,55,130,30,85,165,40,100,20,150,70,
90,35,125,55,210,80,15,115,65,175,45,100,25,145,70,190,50,120,10,85,
40,110,75,155,20,95,60,225,35,130,85,50,170,105,15,65,140,45,195,80,
120,55,30,160,90,70,205,40,105,15,135,75,185,50,95,25,150,65,115,230,
45,100,170,60,20,130,85,195,35,110,55,150,75,10,125,90,215,40,100,65,
140,30,80,180,55,115,15,95,160,70,45,205,105,25,135,85,60,175,40,120,
75,155,35,100,60,190,20,125,85,50,165,95,30,140,70,110,45,200,80,55,
110,30,85,160,50,15,125,70,190,40,95,20,145,60,100,10,175,80,35,120,
25,135,60,95,20,165,45,110,75,215,30,130,90,55,180,15,105,65,150,40,
95,20,145,60,115,40,185,75,10,130,55,100,210,35,80,160,25,120,70,50,
60,170,40,85,125,20,100,145,55,230,75,30,115,65,170,45,90,10,140,80,
130,35,85,10,155,60,110,45,180,75,20,140,95,200,50,115,30,160,70,85,
20,105,160,65,130,40,215,85,55,150,25,95,120,45,180,70,110,35,140,90,
115,40,90,185,60,135,25,100,160,70,45,125,80,210,35,150,95,55,120,65
];
const rightGrayDiffY = [
130,60,200,95,165,30,120,245,85,150,110,180,45,135,260,100,70,155,205,115,
90,175,140,50,220,105,65,195,125,280,80,160,35,130,185,100,240,145,60,115,
165,75,125,210,40,150,100,270,135,85,190,55,120,230,95,160,25,140,200,110,
70,145,250,105,180,60,130,90,215,120,40,170,100,275,140,80,155,50,195,125,
115,185,55,140,95,235,125,70,160,30,205,110,145,85,265,100,175,60,130,90,
150,80,195,120,45,170,105,255,135,65,185,95,140,25,215,115,160,75,125,200,
100,155,60,225,130,90,180,40,145,110,270,75,165,120,50,190,95,135,85,150,
85,180,140,45,220,110,160,70,125,270,95,150,30,190,115,60,235,135,100,175,
150,60,195,120,85,255,135,40,170,110,215,75,145,100,185,25,125,160,90,240,
100,215,60,145,175,30,125,195,85,155,110,265,70,135,40,180,120,95,225,140,
180,85,130,40,160,205,100,145,265,60,120,175,90,30,150,240,115,70,135,190,
55,140,200,105,165,75,250,125,35,150,95,185,120,60,215,140,85,170,110,275,
125,190,70,155,100,230,40,135,175,90,260,120,60,145,200,80,165,110,30,150,
170,90,140,55,195,120,230,75,160,105,35,185,130,80,150,250,110,65,140,95
];
const rightMeanX = [
12.04,12.05,12.06,12.07,12.08,12.09,12.10,12.11,12.12,12.13,12.14,12.15,12.16,12.17,12.18,12.19,12.20,12.21,12.22,12.23,
12.24,12.25,12.26,12.27,12.28,12.29,12.30,12.31,12.32,12.33,12.34,12.35,12.36,12.37,12.38,12.39,12.40,12.41,12.42,12.43,
12.44,12.45,12.46,12.47,12.48,12.49,12.50,12.51,12.52,12.53,12.54,12.55,12.56,12.57,12.58,12.59,12.60,12.61,12.62,12.63,
12.64,12.65,12.66,12.67,12.68,12.69,12.70,12.71,12.72,12.73,12.74,12.75,12.76,12.77,12.78,12.79,12.80,12.81,12.82,12.83
];
const rightMeanAlt = [
130,130,129,130,129,129,128,128,127,127,127,126,126,125,124,123,125,126,127,127,
128,129,131,133,135,137,139,141,143,145,146,146,148,150,152,154,156,157,158,159,
161,163,166,168,170,171,172,172,173,174,176,178,180,182,184,186,188,189,190,190,
191,192,193,192,194,195,194,193,194,195,196,196,197,195,196,194,192,191,190,189
];
const rightMeanMod = [
14,14,15,14,15,16,16,17,18,18,19,20,21,22,23,24,25,27,28,30,
31,32,34,35,36,37,38,40,41,42,44,45,46,47,48,49,50,51,52,53,
54,55,57,58,59,61,62,62,63,64,64,65,66,66,67,67,68,69,69,70,
70,71,72,72,73,73,74,74,75,75,76,76,77,77,78,77,78,79,78,79
];
const rightMeanDiff = [
118,117,116,115,114,113,112,111,110,108,107,106,105,104,103,102,102,101,101,100,
100,99,99,98,98,98,98,98,99,99,99,99,100,100,100,100,100,101,101,102,
102,103,103,104,104,105,105,105,106,106,107,107,108,108,109,109,110,111,111,112,
113,113,114,115,116,117,118,119,120,120,120,120,119,118,117,115,113,112,111,110
];

// Axis ticks
const leftXTicks = [13.8,14.0,14.2,14.4,14.6,14.8,15.0];
const leftXMinor = [13.9,14.1,14.3,14.5,14.7,14.9];
const rightXTicks = [11.8,12.0,12.2,12.4,12.6,12.8,13.0];
const rightXMinor = [11.9,12.1,12.3,12.5,12.7,12.9];
const leftYTicks = [-100,0,100,200];
const leftYMinor = [-50,50,150];
const rightYTicks = [0,100,200,300];
const rightYMinor = [50,150,250];

// ---------------- DRAWING ----------------
const svg = d3.select("#chart")
  .attr("font-family","'Liberation Sans', Arial, Helvetica, sans-serif");

const FONT = 16;
const cols = [
  {x0:98.5, x1:600.5, dom:[13.8,15.0], xt:leftXTicks, xm:leftXMinor, yd:[-100,200], yt:leftYTicks, ym:leftYMinor, labelSide:"left"},
  {x0:632, x1:1134, dom:[11.8,13.0], xt:rightXTicks, xm:rightXMinor, yd:[0,300], yt:rightYTicks, ym:rightYMinor, labelSide:"right"}
];
const rows = [{y0:21,y1:146.7},{y0:165.3,y1:291},{y0:310.3,y1:435.7}];

const teal = "#12b3b3", red = "#ff5252", mag = "#e41cf2", grey = "#c8c8c8";

const labels = [
  [["H"],["Altim",1],[" \u2212 H"],["Peg",1]],
  [["H"],["oMod,Altim",1],[" \u2212 H"],["oMod,Peg",1]],
  [["(H"],["Altim",1],["\u2212H"],["Peg",1],[")\u2212(H"],["oMod,Altim",1],["\u2212H"],["oMod,Peg",1],[")"]]
];

const panels = [
  {c:0,r:0,color:teal,px:leftX,py:leftAltY,gx:leftGrayX,gy:leftGrayAltY,mx:leftMeanX,my:leftMeanAlt,title:"TOPEX, 111"},
  {c:0,r:1,color:red,px:leftX,py:leftModY,gx:leftGrayX,gy:leftGrayModY,mx:leftMeanX,my:leftMeanMod},
  {c:0,r:2,color:mag,px:leftX,py:leftDiffY,gx:leftGrayX,gy:leftGrayDiffY,mx:leftMeanX,my:leftMeanDiff},
  {c:1,r:0,color:teal,px:rightX,py:rightAltY,gx:rightGrayX,gy:rightGrayAltY,mx:rightMeanX,my:rightMeanAlt,title:"GFO, 304"},
  {c:1,r:1,color:red,px:rightX,py:rightModY,gx:rightGrayX,gy:rightGrayModY,mx:rightMeanX,my:rightMeanMod},
  {c:1,r:2,color:mag,px:rightX,py:rightDiffY,gx:rightGrayX,gy:rightGrayDiffY,mx:rightMeanX,my:rightMeanDiff}
];

function styleAxis(g){
  g.attr("font-size",null).attr("font-family",null);
  g.select(".domain").remove();
  g.selectAll("line").attr("stroke","#000").attr("stroke-width",1.2);
  g.selectAll("text").attr("fill","#000").attr("font-size",FONT);
}

function axisPair(g, fn, scale, major, minor, showLabels, fmt, pad, transform){
  const a = fn(scale).tickValues(major).tickSize(12).tickSizeOuter(0).tickPadding(pad)
    .tickFormat(showLabels ? fmt : () => "");
  g.append("g").attr("transform",transform).call(a).call(styleAxis);
  const b = fn(scale).tickValues(minor).tickSize(6).tickSizeOuter(0).tickFormat(() => "");
  g.append("g").attr("transform",transform).call(b).call(styleAxis);
}

panels.forEach(p => {
  const col = cols[p.c], row = rows[p.r];
  const x = d3.scaleLinear().domain(col.dom).range([col.x0, col.x1]);
  const y = d3.scaleLinear().domain(col.yd).range([row.y1, row.y0]);
  const g = svg.append("g");

  const grayPts = d3.zip(p.gx, p.gy);
  const colPts = d3.zip(p.px, p.py);
  g.append("g").selectAll("circle").data(grayPts).join("circle")
    .attr("cx", d => x(d[0])).attr("cy", d => y(d[1])).attr("r",1.6).attr("fill",grey);
  g.append("g").selectAll("circle").data(colPts).join("circle")
    .attr("cx", d => x(d[0])).attr("cy", d => y(d[1])).attr("r",1.6).attr("fill",p.color);

  const line = d3.line().x(d => x(d[0])).y(d => y(d[1]));
  g.append("path").datum(d3.zip(p.mx, p.my)).attr("d", line)
    .attr("fill","none").attr("stroke","#000").attr("stroke-width",1.1);

  // frame
  g.append("rect").attr("x",col.x0).attr("y",row.y0)
    .attr("width",col.x1-col.x0).attr("height",row.y1-row.y0)
    .attr("fill","none").attr("stroke","#000").attr("stroke-width",1.8);

  const xf = d3.format(".1f"), yf = d3.format("d");
  axisPair(g, d3.axisBottom, x, col.xt, col.xm, p.r===2, xf, 9, `translate(0,${row.y1})`);
  axisPair(g, d3.axisTop, x, col.xt, col.xm, false, xf, 6, `translate(0,${row.y0})`);
  axisPair(g, d3.axisLeft, y, col.yt, col.ym, col.labelSide==="left", yf, 6, `translate(${col.x0},0)`);
  axisPair(g, d3.axisRight, y, col.yt, col.ym, col.labelSide==="right", yf, 7, `translate(${col.x1},0)`);

  const yc = (row.y0 + row.y1)/2;
  const mmX = col.labelSide==="left" ? 21.5 : 1215.5;
  g.append("text").attr("transform",`translate(${mmX},${yc}) rotate(-90)`)
    .attr("text-anchor","middle").attr("font-size",FONT).text("mm");

  if (p.title) {
    g.append("text").attr("x",col.x0+22).attr("y",row.y0+20.5)
      .attr("font-size",17).attr("font-style","italic").text(p.title);
  }
  const t = g.append("text").attr("x",col.x1-19).attr("y",row.y0+20.5)
    .attr("text-anchor","end").attr("font-size",17).attr("font-style","italic");
  let down = false;
  labels[p.r].forEach(part => {
    const s = t.append("tspan").text(part[0]);
    if (part[1]) { s.attr("font-size",12).attr("dy", down ? 0 : 4); down = true; }
    else { if (down) s.attr("dy",-4); down = false; }
  });
});

cols.forEach(col => {
  svg.append("text").attr("x",(col.x0+col.x1)/2).attr("y",499)
    .attr("text-anchor","middle").attr("font-size",FONT).text("L\u00e4nge (Grad)");
});
</script>
</body></html>
